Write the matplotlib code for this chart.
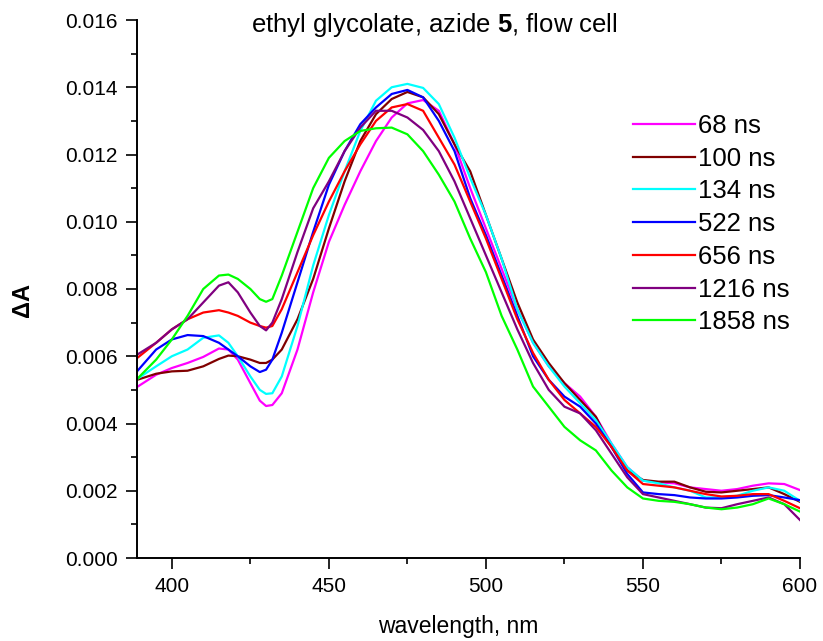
import numpy as np
import matplotlib
matplotlib.use("Agg")
import matplotlib.pyplot as plt
from matplotlib.ticker import MultipleLocator, FormatStrFormatter

plt.rcParams['font.family'] = ['Liberation Sans', 'DejaVu Sans']
plt.rcParams['mathtext.fontset'] = 'custom'
plt.rcParams['mathtext.rm'] = 'Liberation Sans'
plt.rcParams['mathtext.bf'] = 'Liberation Sans:bold'

# wavelength grid, nm
wavelength = [389, 395, 400, 405, 410, 415, 418, 421, 425, 428, 430, 432, 435, 440, 445,
              450, 455, 460, 465, 470, 475, 480, 485, 490, 495, 500, 505, 510, 515, 520,
              525, 530, 535, 540, 545, 550, 555, 560, 565, 570, 575, 580, 585, 590, 595, 600]

labels = ["68 ns", "100 ns", "134 ns", "522 ns", "656 ns", "1216 ns", "1858 ns"]
colors = ["#FF00FF", "#800000", "#00FFFF", "#0000FF", "#FF0000", "#800080", "#00FF00"]

dA_68 = [.00509, .00545, .00565, .0058, .00598, .00623, .0062, .0059, .0052, .00468, .00452, .00455, .0049, .0062, .0079,
         .0094, .0105, .0115, .0124, .0131, .01352, .01362, .0133, .0123, .0110, .0098, .0086, .0074, .0064, .0057,
         .0052, .0048, .0042, .0034, .0027, .0023, .00225, .00222, .0021, .00205, .0020, .00205, .00215, .00222, .0022, .00202]
dA_100 = [.0053, .00548, .00555, .00557, .0057, .00592, .00602, .0060, .0059, .0058, .0058, .0059, .0062, .0071, .0083,
          .0098, .0112, .0124, .0132, .01365, .01386, .0137, .0132, .0123, .0115, .0102, .0089, .0076, .0065, .0058,
          .0052, .0047, .0042, .0033, .0026, .00232, .00227, .00227, .0021, .00197, .00195, .0020, .00205, .0021, .0019, .00167]
dA_134 = [.00533, .0057, .0060, .0062, .00655, .00662, .0064, .0060, .0054, .0050, .00488, .0049, .0054, .0069, .0087,
          .0102, .0115, .0127, .0136, .0140, .0141, .01398, .0135, .0125, .0113, .0102, .0089, .0074, .0064, .0057,
          .0051, .0046, .0041, .0034, .0027, .0023, .00222, .0021, .0020, .0018, .0018, .00185, .0020, .0021, .0020, .0017]
dA_522 = [.00556, .0062, .0065, .00663, .0066, .0064, .0062, .0060, .0057, .00553, .0056, .0059, .0067, .0082, .0097,
          .0111, .0121, .0129, .0134, .0138, .01392, .0137, .0130, .0121, .0107, .0096, .0084, .0072, .0060, .0053,
          .0048, .0045, .0040, .0033, .0025, .00195, .0019, .00187, .0018, .00177, .00177, .0018, .00185, .00187, .0018, .00172]
dA_656 = [.00595, .0064, .0068, .0071, .0073, .00737, .0073, .0072, .0070, .0069, .00685, .0069, .0074, .0085, .0096,
          .0106, .0115, .0123, .0130, .0134, .0135, .0133, .0125, .0117, .0106, .0095, .0083, .0071, .0061, .0053,
          .0047, .0043, .0039, .0033, .0026, .0022, .00215, .0021, .0020, .0019, .00183, .00185, .0019, .0019, .0017, .00148]
dA_1216 = [.00605, .0064, .0068, .0071, .0076, .0081, .0082, .0079, .0073, .0069, .00677, .0070, .0077, .0091, .0104,
           .0112, .0121, .0128, .0133, .0133, .0131, .01273, .0121, .0112, .0101, .0090, .0079, .0068, .0058, .0050,
           .0045, .0043, .0038, .0031, .0024, .0019, .0018, .0017, .0016, .0015, .00148, .0016, .0017, .0018, .0016, .00113]
dA_1858 = [.00533, .0059, .0065, .0072, .0080, .0084, .00843, .0083, .0080, .0077, .00762, .0077, .0084, .0097, .0110,
           .0119, .0124, .0127, .01278, .0128, .0126, .0121, .0114, .0106, .0095, .0085, .0072, .0062, .0051, .0045,
           .0039, .0035, .0032, .0026, .0021, .00177, .0017, .00167, .0016, .0015, .00145, .0015, .0016, .00177, .0016, .00138]

series = [dA_68, dA_100, dA_134, dA_522, dA_656, dA_1216, dA_1858]

fig = plt.figure(figsize=(8.23, 6.41), dpi=100)
ax = fig.add_axes([137.3 / 823, 83 / 641, (800 - 137.3) / 823, (558 - 20) / 641])

for vals, lab, col in zip(series, labels, colors):
    ax.plot(wavelength, vals, color=col, lw=1.6, label=lab, solid_joinstyle="round")

ax.set_xlim(389, 600)
ax.set_ylim(0, 0.016)
ax.xaxis.set_major_locator(MultipleLocator(50))
ax.xaxis.set_minor_locator(MultipleLocator(25))
ax.yaxis.set_major_locator(MultipleLocator(0.002))
ax.yaxis.set_minor_locator(MultipleLocator(0.001))
ax.yaxis.set_major_formatter(FormatStrFormatter('%.3f'))

for side in ("top", "right"):
    ax.spines[side].set_visible(False)
for side in ("left", "bottom"):
    ax.spines[side].set_linewidth(1.4)

ax.tick_params(which="major", direction="out", length=8, width=1.2, labelsize=15, pad=6)
ax.tick_params(which="minor", direction="out", length=4, width=1.2)

fig.text(434 / 823, 1 - 32 / 641, r"ethyl glycolate, azide $\mathbf{5}$, flow cell",
         ha="center", va="baseline", fontsize=18.5)
fig.text(458 / 823, 1 - 633 / 641, "wavelength, nm", ha="center", va="baseline", fontsize=16.5)
fig.text(23 / 823, 1 - 300 / 641, "ΔA", ha="center", va="center", rotation=90,
         fontsize=17, fontweight="bold")

ax.legend(loc="upper left", bbox_to_anchor=(633 / 823, 1 - 114 / 641),
          bbox_transform=fig.transFigure, frameon=False, fontsize=18.5,
          handlelength=2.41, handletextpad=0.12, labelspacing=0.34,
          borderpad=0, borderaxespad=0)

fig.savefig("out.png", dpi=100)
